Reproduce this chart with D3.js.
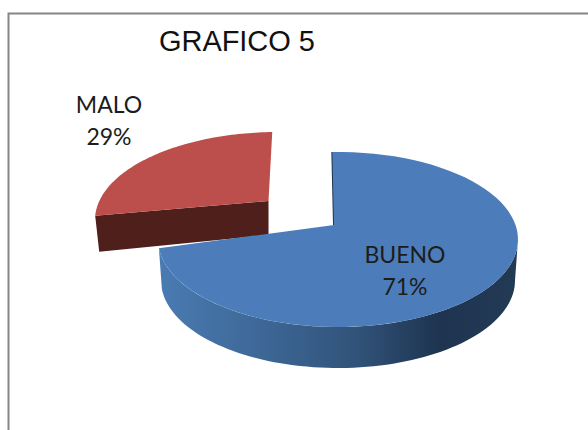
<!DOCTYPE html>
<html>
<head>
<meta charset="utf-8">
<script src="https://cdnjs.cloudflare.com/ajax/libs/d3/7.8.5/d3.min.js"></script>
<style>
  html, body { margin: 0; padding: 0; background: #fff; overflow: hidden; }
  .title { font-family: "Liberation Sans", sans-serif; font-size: 29px; letter-spacing: -0.05px; fill: #111; }
  .label { font-family: Lato, sans-serif; font-size: 23px; fill: #1c1c1c; text-anchor: middle; }
</style>
</head>
<body>
<script>
  var chartTitle = "GRAFICO 5";
  var categories = ["BUENO", "MALO"];
  var shares = [71, 29];

  var width = 588, height = 430;

  /* one entry per slice, the exploded 3D look is faked with shifted ellipses */
  var slices = [
    { fill: "#4c7dba", center: [338, 239.5], apex: [334, 225], rx: 180, ry: 87.5,
      sweep: [-0.01 * Math.PI, 1.468 * Math.PI], labelAt: [405, 263] },
    { fill: "#bc4f4b", center: [278, 220], apex: [268.5, 201], rx: 183, ry: 88,
      sweep: [1.515 * Math.PI, 1.99 * Math.PI], labelAt: [109, 113] }
  ];

  var svg = d3.select("body").append("svg")
      .attr("width", width)
      .attr("height", height);

  // frame, only top and left edges show in the crop
  svg.append("path")
      .attr("d", "M8.5," + height + "V13.5H" + width)
      .attr("fill", "none")
      .attr("stroke", "#868686")
      .attr("stroke-width", 2);

  svg.append("text")
      .attr("class", "title")
      .attr("x", 159)
      .attr("y", 51)
      .text(chartTitle);

  var defs = svg.append("defs");
  var wallGrad = defs.append("linearGradient")
      .attr("id", "wallGrad")
      .attr("gradientUnits", "userSpaceOnUse")
      .attr("x1", 158).attr("x2", 518)
      .attr("y1", 0).attr("y2", 0);
  [[0, "#4a7bb3"], [0.25, "#3f6a9a"], [0.55, "#31537a"], [0.78, "#1e3450"], [1, "#233a55"]].forEach(function(s) {
    wallGrad.append("stop").attr("offset", s[0]).attr("stop-color", s[1]);
  });

  var line = d3.line();

  // point on an ellipse, t measured clockwise from the top
  function onEllipse(c, rx, ry, t) {
    return [c[0] + rx * Math.sin(t), c[1] - ry * Math.cos(t)];
  }

  // points along an ellipse between two angles
  function arcPoints(c, rx, ry, t0, t1) {
    return d3.range(0, 81).map(function(i) {
      return onEllipse(c, rx, ry, t0 + (t1 - t0) * i / 80);
    });
  }

  var pie = d3.pie().sort(null).startAngle(0).endAngle(2 * Math.PI);
  var arcs = pie(shares);

  // pie angles to ellipse angles, each slice has its own foreshortening
  var geo = arcs.map(function(a, i) {
    var s = slices[i];
    var toEllipse = d3.scaleLinear().domain([a.startAngle, a.endAngle]).range(s.sweep);
    return { s: s, t0: toEllipse(a.startAngle), t1: toEllipse(a.endAngle) };
  });

  /* M A L O  goes first, the big slice overlaps it */
  var red = geo[1];
  var redLeft = onEllipse(red.s.center, red.s.rx, red.s.ry, red.t0);
  svg.append("path")
      .attr("d", line([redLeft, red.s.apex,
        [red.s.apex[0], red.s.apex[1] + 34],
        [redLeft[0] + 4, redLeft[1] + 36]]) + "Z")
      .attr("fill", "#4f1f1c");
  svg.append("path")
      .attr("d", line([red.s.apex].concat(arcPoints(red.s.center, red.s.rx, red.s.ry, red.t0, red.t1))) + "Z")
      .attr("fill", red.s.fill);

  /* B U E N O */
  var blue = geo[0];
  var wallTop = arcPoints(blue.s.center, blue.s.rx, blue.s.ry, Math.PI / 2, blue.t1);
  var wallBottom = arcPoints([blue.s.center[0], blue.s.center[1] + 41], blue.s.rx - 3, blue.s.ry, Math.PI / 2, blue.t1).reverse();
  svg.append("path")
      .attr("d", line(wallTop.concat(wallBottom)) + "Z")
      .attr("fill", "url(#wallGrad)");

  // thin inner wall next to the gap
  var blueTop = onEllipse(blue.s.center, blue.s.rx, blue.s.ry, blue.t0);
  svg.append("path")
      .attr("d", line([blueTop, blue.s.apex]))
      .attr("fill", "none")
      .attr("stroke", "#1e3450")
      .attr("stroke-width", 2);

  svg.append("path")
      .attr("d", line([blue.s.apex].concat(arcPoints(blue.s.center, blue.s.rx, blue.s.ry, blue.t0, blue.t1))) + "Z")
      .attr("fill", blue.s.fill);

  // data labels, name on top and share below
  categories.forEach(function(name, i) {
    var at = slices[i].labelAt;
    var g = svg.append("text").attr("class", "label");
    g.append("tspan").attr("x", at[0]).attr("y", at[1]).text(name);
    g.append("tspan").attr("x", at[0]).attr("y", at[1] + 32).text(shares[i] + "%");
  });
</script>
</body>
</html>
